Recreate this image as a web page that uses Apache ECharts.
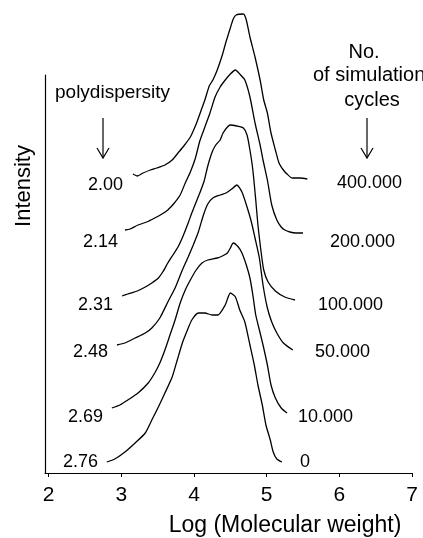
<!DOCTYPE html>
<html>
<head>
<meta charset="utf-8">
<script src="https://cdn.jsdelivr.net/npm/echarts@6.0.0/dist/echarts.min.js"></script>
<style>
  html, body { margin: 0; padding: 0; background: #fff; }
  #chart { width: 423px; height: 538px; }
</style>
</head>
<body>
<div id="chart"></div>
<script>
// GPC traces, x = log(molecular weight), y = intensity (curves already offset)
const curve400k = [[3.16,74.75],[3.22,74.25],[3.30,75],[3.40,75.75],[3.49,76.25],[3.60,77],[3.70,78.25],[3.78,80],[3.86,81.75],[3.95,84],[4.03,87.25],[4.10,90.75],[4.15,93.25],[4.21,96.75],[4.26,98.25],[4.32,100.75],[4.39,104.5],[4.44,107.75],[4.50,111.25],[4.54,113.5],[4.58,114.5],[4.68,114.75],[4.72,113.25],[4.77,109],[4.84,104],[4.91,98.25],[4.96,93.25],[5.01,90],[5.06,85],[5.12,80.75],[5.17,77.5],[5.23,75.75],[5.28,74.75],[5.35,73.75],[5.46,73.75],[5.56,73.5]];
const curve200k = [[3.05,60.75],[3.12,61],[3.23,62],[3.35,62.75],[3.46,63.75],[3.56,64.75],[3.64,65.75],[3.73,67.5],[3.81,69.5],[3.88,72.5],[3.95,75.25],[4.02,78.75],[4.08,83],[4.15,86.5],[4.22,90],[4.29,94],[4.36,96.5],[4.43,98.25],[4.50,99.75],[4.57,100.75],[4.63,99.75],[4.70,98.25],[4.77,94],[4.84,87.5],[4.91,82],[4.95,78.25],[5.01,73.25],[5.07,67],[5.14,63.25],[5.20,61.5],[5.25,60.75],[5.32,60.25],[5.40,60],[5.50,60]];
const curve100k = [[3.01,44.25],[3.09,44.75],[3.22,45.5],[3.33,46.5],[3.42,47.5],[3.51,48.75],[3.57,50.25],[3.64,52.5],[3.71,54.5],[3.78,56.5],[3.85,59.25],[3.92,62.5],[3.97,65],[4.03,67.75],[4.08,70],[4.14,73],[4.19,76.75],[4.25,80.25],[4.30,82],[4.36,83.25],[4.40,85],[4.46,86.5],[4.50,87],[4.59,86.75],[4.68,86.25],[4.73,84.5],[4.77,80.75],[4.81,75.75],[4.85,68.25],[4.88,62],[4.92,55.75],[4.96,50.75],[5.02,47.75],[5.12,45.5],[5.25,44],[5.39,43.25]];
const curve50k = [[2.94,32],[3.05,32.5],[3.19,33.75],[3.33,35],[3.42,36.25],[3.53,38.75],[3.64,42.75],[3.74,46.25],[3.84,50.75],[3.92,54],[3.99,57],[4.06,60.25],[4.13,64.5],[4.19,67.25],[4.26,68.75],[4.36,69.5],[4.44,70],[4.52,71],[4.59,72],[4.66,70.25],[4.73,66.5],[4.79,62.75],[4.84,58.75],[4.90,53.75],[4.95,47],[5.01,41.25],[5.07,37.75],[5.14,35],[5.23,32.5],[5.36,30.75]];
const curve10k = [[2.87,16.25],[2.98,17],[3.09,18.25],[3.23,20],[3.37,22.5],[3.46,25],[3.53,27.5],[3.60,30.75],[3.67,34.5],[3.74,38.25],[3.81,42.5],[3.88,45.75],[3.95,48.25],[4.03,50.75],[4.11,52.5],[4.19,53.25],[4.32,53.75],[4.39,54.25],[4.46,55],[4.50,56.25],[4.54,57.5],[4.61,56.5],[4.66,55],[4.72,52],[4.77,48.75],[4.81,44.5],[4.85,39.5],[4.90,35.75],[4.95,32],[5.01,27],[5.06,22],[5.12,18.75],[5.20,16.25],[5.28,15]];
const curve0 = [[2.80,2.75],[2.91,3.5],[3.05,5.25],[3.19,7.5],[3.33,10],[3.42,13.25],[3.51,16.5],[3.60,20],[3.70,24],[3.77,28.25],[3.84,32.5],[3.91,35.75],[3.97,38.25],[4.06,40],[4.15,40],[4.25,39.5],[4.33,39.5],[4.43,42],[4.50,45],[4.57,44],[4.63,40.75],[4.70,37.75],[4.77,32],[4.83,27],[4.88,22],[4.94,17],[4.99,12],[5.05,8.25],[5.09,5.25],[5.14,3.5],[5.21,2.75]];

const curves = [curve400k, curve200k, curve100k, curve50k, curve10k, curve0];
const cycles = ['400.000', '200.000', '100.000', '50.000', '10.000', '0'];
const polydispersity = ['2.00', '2.14', '2.31', '2.48', '2.69', '2.76'];
const xTicks = [2, 3, 4, 5, 6, 7];

// where the side labels sit (px)
const polyPos = [[88,185],[83,242],[78,305],[73,352],[68,417],[63,462]];
const cyclePos = [[337,183],[330,242],[318,305],[315,352],[298,417],[300,462]];

const FONT = '"Liberation Sans", Arial, sans-serif';

function txt(text, x, y, size, align) {
  return {
    type: 'text', x: x, y: y, silent: true,
    style: { text: text, fill: '#000', font: size + 'px ' + FONT, textAlign: align || 'left', textVerticalAlign: 'middle' }
  };
}
function arrow(x, y1, y2) {
  return [
    { type: 'line', silent: true, shape: { x1: x, y1: y1, x2: x, y2: y2 }, style: { stroke: '#000', lineWidth: 1.2 } },
    { type: 'polyline', silent: true, shape: { points: [[x - 6, y2 - 10], [x, y2], [x + 6, y2 - 10]] }, style: { stroke: '#000', lineWidth: 1.2, fill: null } }
  ];
}

const chart = echarts.init(document.getElementById('chart'));

const graphics = [];
polydispersity.forEach((t, i) => graphics.push(txt(t, polyPos[i][0], polyPos[i][1], 18)));
cycles.forEach((t, i) => graphics.push(txt(t, cyclePos[i][0], cyclePos[i][1], 18)));
graphics.push(txt('polydispersity', 55, 93, 19));
graphics.push(txt('No.', 364, 52, 20, 'center'));
graphics.push(txt('of simulation', 313, 75, 20));
graphics.push(txt('cycles', 372, 100, 20, 'center'));
graphics.push(...arrow(103, 118, 158), ...arrow(367, 118, 158));
graphics.push(txt('Log (Molecular weight)', 285, 526, 23, 'center'));
graphics.push(Object.assign(txt('Intensity', 0, 0, 22, 'center'), { x: 24, y: 186, rotation: Math.PI / 2 }));

chart.setOption({
  animation: false,
  backgroundColor: '#fff',
  grid: { left: 45, right: 11, top: 75, bottom: 65 },
  xAxis: {
    type: 'value',
    min: 1.95,
    max: 7,
    axisLine: { lineStyle: { color: '#000', width: 1.2 } },
    axisTick: { show: true, length: 4, customValues: xTicks, lineStyle: { color: '#000' } },
    axisLabel: { customValues: xTicks, color: '#000', fontSize: 21, fontFamily: FONT, margin: 12 },
    splitLine: { show: false }
  },
  yAxis: {
    type: 'value',
    min: 0,
    max: 99.5,
    axisLine: { show: true, lineStyle: { color: '#000', width: 1.2 } },
    axisTick: { show: false },
    axisLabel: { show: false },
    splitLine: { show: false }
  },
  series: curves.map((d, i) => ({
    type: 'line',
    name: cycles[i],
    data: d,
    showSymbol: false,
    smooth: 0.2,
    clip: false,
    silent: true,
    lineStyle: { color: '#000', width: 1.3 }
  })),
  graphic: graphics
});
</script>
</body>
</html>
